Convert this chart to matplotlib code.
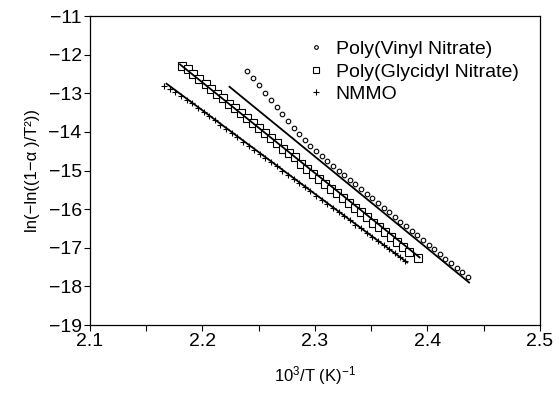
#!/usr/bin/env python3
"""Arrhenius-type plot of ln(-ln(1-a)/T^2) vs 1000/T for three nitrate binders."""

import matplotlib

matplotlib.use("Agg")
import matplotlib.pyplot as plt
from matplotlib.ticker import MultipleLocator

plt.rcParams.update(
    {
        "font.family": ["Liberation Sans", "DejaVu Sans"],
        "mathtext.fontset": "custom",
        "mathtext.rm": "Liberation Sans",
        "mathtext.it": "Liberation Sans:italic",
        "axes.unicode_minus": True,
    }
)

# Poly(Vinyl Nitrate) data (circles)
pvn_x = [2.240, 2.245, 2.250, 2.256, 2.261, 2.266, 2.271, 2.276, 2.281, 2.286,
         2.291, 2.296, 2.301, 2.306, 2.311, 2.316, 2.321, 2.326, 2.331, 2.336,
         2.341, 2.346, 2.351, 2.356, 2.361, 2.366, 2.371, 2.376, 2.381, 2.386,
         2.391, 2.396, 2.401, 2.406, 2.411, 2.416, 2.421, 2.426, 2.431, 2.436]
pvn_y = [-12.42, -12.60, -12.78, -12.98, -13.17, -13.35, -13.54, -13.72, -13.90, -14.06,
         -14.22, -14.36, -14.50, -14.63, -14.75, -14.88, -15.00, -15.12, -15.24, -15.36,
         -15.48, -15.60, -15.72, -15.84, -15.96, -16.08, -16.20, -16.32, -16.44, -16.56,
         -16.68, -16.80, -16.92, -17.04, -17.16, -17.28, -17.40, -17.52, -17.63, -17.75]
pvn_fit_x = [2.224, 2.437]
pvn_fit_y = [-12.83, -17.90]

# Poly(Glycidyl Nitrate) data (squares)
pgn_x = [2.182, 2.187, 2.192, 2.197, 2.203, 2.208, 2.213, 2.218, 2.224, 2.229,
         2.234, 2.240, 2.245, 2.250, 2.256, 2.261, 2.266, 2.272, 2.277, 2.282,
         2.288, 2.293, 2.298, 2.304, 2.309, 2.314, 2.320, 2.325, 2.330, 2.336,
         2.341, 2.346, 2.352, 2.357, 2.362, 2.368, 2.373, 2.378, 2.384, 2.392]
pgn_y = [-12.28, -12.38, -12.50, -12.62, -12.76, -12.88, -13.01, -13.13, -13.27, -13.39,
         -13.52, -13.65, -13.78, -13.90, -14.04, -14.16, -14.28, -14.43, -14.54, -14.66,
         -14.82, -14.95, -15.08, -15.22, -15.35, -15.47, -15.59, -15.72, -15.83, -15.96,
         -16.08, -16.20, -16.35, -16.47, -16.60, -16.73, -16.86, -16.98, -17.10, -17.27]
pgn_fit_x = [2.180, 2.393]
pgn_fit_y = [-12.25, -17.25]

# NMMO data (plus signs)
nmmo_x = [2.166, 2.171, 2.176, 2.181, 2.186, 2.191, 2.196, 2.201, 2.206, 2.211,
          2.216, 2.221, 2.226, 2.231, 2.236, 2.241, 2.246, 2.251, 2.256, 2.261,
          2.266, 2.271, 2.276, 2.281, 2.286, 2.291, 2.296, 2.301, 2.306, 2.311,
          2.316, 2.321, 2.326, 2.331, 2.336, 2.341, 2.346, 2.351, 2.356, 2.361,
          2.366, 2.371, 2.376, 2.380]
nmmo_y = [-12.80, -12.88, -12.97, -13.06, -13.16, -13.26, -13.37, -13.48, -13.59, -13.70,
          -13.81, -13.92, -14.03, -14.14, -14.25, -14.36, -14.47, -14.57, -14.68, -14.79,
          -14.89, -15.00, -15.11, -15.22, -15.32, -15.43, -15.54, -15.65, -15.75, -15.86,
          -15.97, -16.08, -16.18, -16.29, -16.40, -16.50, -16.61, -16.71, -16.82, -16.92,
          -17.03, -17.13, -17.24, -17.33]
nmmo_fit_x = [2.168, 2.382]
nmmo_fit_y = [-12.75, -17.38]

labels = ["Poly(Vinyl Nitrate)", "Poly(Glycidyl Nitrate)", "NMMO"]


def main() -> None:
    fig = plt.figure(figsize=(5.59, 3.93), dpi=100)
    ax = fig.add_axes([0.161, 0.173, 0.805, 0.786])

    ax.plot(pvn_x, pvn_y, "o", ms=3.3, mfc="white", mec="black", mew=0.8, label=labels[0])
    ax.plot(pgn_x, pgn_y, "s", ms=5.2, mfc="white", mec="black", mew=0.8, label=labels[1])
    ax.plot(nmmo_x, nmmo_y, "+", ms=5, color="black", mew=0.8, label=labels[2])

    for fx, fy in [(pvn_fit_x, pvn_fit_y), (pgn_fit_x, pgn_fit_y), (nmmo_fit_x, nmmo_fit_y)]:
        ax.plot(fx, fy, "-", color="black", lw=1.3)

    ax.set_xlim(2.1, 2.5)
    ax.set_ylim(-19, -11)
    ax.set_xticks([2.1, 2.2, 2.3, 2.4, 2.5])
    ax.set_xticklabels(["2.1", "2.2", "2.3", "2.4", "2.5"])
    ax.xaxis.set_minor_locator(MultipleLocator(0.05))
    ax.yaxis.set_major_locator(MultipleLocator(1))
    ax.tick_params(axis="both", which="both", direction="out", labelsize=14,
                   top=False, right=False, width=0.8, length=4, pad=2)
    for sp in ax.spines.values():
        sp.set_linewidth(0.9)

    ax.set_xlabel(r"10$^3$/T (K)$^{-1}$", fontsize=12, labelpad=10)
    ax.set_ylabel("ln(\u2212ln((1\u2212\u03b1 )/T\u00b2))", fontsize=12, labelpad=6)

    ax.legend(loc="upper left", bbox_to_anchor=(0.455, 0.965), frameon=False,
              fontsize=14, handlelength=0.8, handletextpad=0.6, labelspacing=0.25,
              borderpad=0.2, markerscale=0.8)

    fig.savefig("out.png", dpi=100)
    plt.close(fig)


if __name__ == "__main__":
    main()
